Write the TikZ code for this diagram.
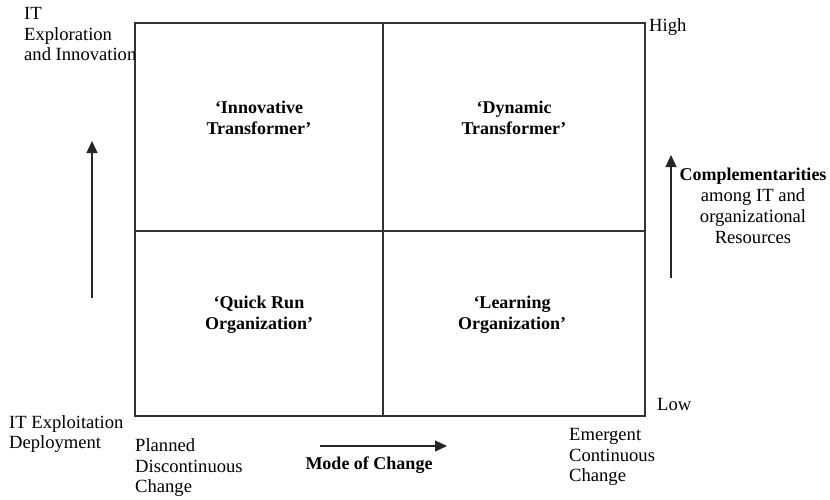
\documentclass[tikz,border=0pt]{standalone}
\usepackage{fontspec}
\setmainfont{Liberation Serif}
\usetikzlibrary{arrows.meta}
\begin{document}
\begin{tikzpicture}[x=1pt,y=-1pt,
  txt/.style={inner sep=0pt,font=\fontsize{18.6}{20.5}\selectfont},
  quad/.style={inner sep=0pt,align=center,font=\fontsize{18}{21}\selectfont\bfseries},
  frame/.style={draw=black!80,line width=1.3pt},
  axisarrow/.style={draw=black!85,line width=1.2pt,-{Triangle[length=12pt,width=11pt]}}]
\useasboundingbox (0,0) rectangle (830,499);
% grid
\coordinate (tl) at (135,23);
\coordinate (tr) at (645,23);
\coordinate (bl) at (135,416);
\coordinate (br) at (645,416);
\coordinate (vt) at (383,23);
\coordinate (vb) at (383,416);
\coordinate (hl) at (135,231);
\coordinate (hr) at (645,231);
\draw[frame] (tl) -- (tr) -- (br) -- (bl) -- cycle;
\draw[frame] (vt) -- (vb);
\draw[frame] (hl) -- (hr);
% quadrant labels
\node[quad] (q1) at (259,118) {‘Innovative\\Transformer’};
\node[quad] (q2) at (514,118) {‘Dynamic\\Transformer’};
\node[quad] (q3) at (259,315) {‘Quick Run\\Organization’};
\node[quad] (q4) at (512,315) {‘Learning\\Organization’};
% axis texts
\node[txt,align=left,anchor=west] (explo) at (24,34) {IT\\Exploration\\and Innovation};
\node[txt,anchor=west] (high) at (649,27) {High};
\node[txt,anchor=west] (low) at (657,404) {Low};
\node[txt,align=left,anchor=west] (exploit) at (9,434) {IT Exploitation\\Deployment};
\node[txt,align=left,anchor=west] (planned) at (135,468) {Planned\\Discontinuous\\Change};
\node[txt,align=left,anchor=west] (emergent) at (569,457) {Emergent\\Continuous\\Change};
\node[inner sep=0pt,font=\fontsize{18}{20.5}\selectfont\bfseries] (mode) at (369,465) {Mode of Change};
\node[inner sep=0pt,align=center,font=\fontsize{18.6}{21}\selectfont] (compl) at (753,206) {\textbf{\fontsize{18}{21}\selectfont Complementarities}\\among IT and\\organizational\\Resources};
% arrows
\coordinate (la0) at (92,298);
\coordinate (la1) at (92,141);
\coordinate (ra0) at (671,278);
\coordinate (ra1) at (671,155);
\coordinate (ba0) at (320,446);
\coordinate (ba1) at (447,446);
\draw[axisarrow] (la0) -- (la1);
\draw[axisarrow] (ra0) -- (ra1);
\draw[axisarrow] (ba0) -- (ba1);
\end{tikzpicture}
\end{document}
